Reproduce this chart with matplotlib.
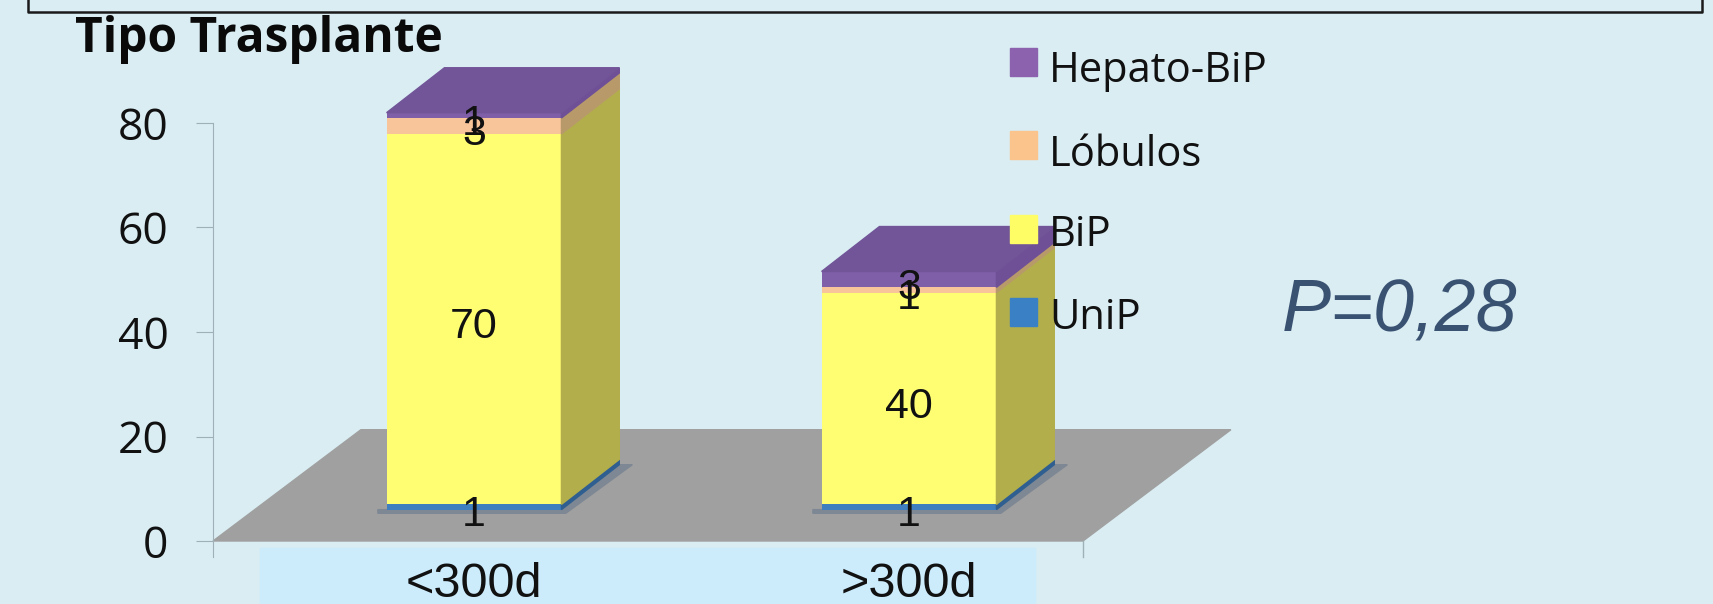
import matplotlib
matplotlib.use("Agg")
import matplotlib.pyplot as plt
from matplotlib.patches import Polygon, Rectangle

groups = ["<300d", ">300d"]
series = ["UniP", "BiP", "Lóbulos", "Hepato-BiP"]
unip = [1, 1]
bip = [70, 40]
lobulos = [3, 1]
hepato = [1, 3]
y_ticks = [0, 20, 40, 60, 80]

front_colors = ["#3F7FBF", "#FFFD72", "#F8C49A", "#7F5FA8"]
legend_colors = ["#3A80C4", "#FFFD66", "#FBC48C", "#8C62AE"]
side_colors = ["#2F5F90", "#B2AE4C", "#B89A6A", "#6F5096"]
top_color = "#715598"
bg = "#D9EDF3"

W, H = 1713, 604
fig = plt.figure(figsize=(W / 100, H / 100), dpi=100, facecolor=bg)
plt.rcParams["font.family"] = ["Liberation Sans", "DejaVu Sans"]

# axes box is placed on the pixel positions of the y axis and floor edge
ax = fig.add_axes([213 / W, 1 - 541 / H, (1083 - 213) / W, (541 - 123) / H])
ax.set_xlim(-0.6, 1.4)
ax.set_ylim(0, 80)
ax.patch.set_alpha(0)

# pale panel behind the category labels, slide frame on top
fig.add_artist(Rectangle((260 / W, 0), 775 / W, 56 / H, transform=fig.transFigure,
                         color="#CCEBFB", zorder=-1))
fig.add_artist(plt.Line2D([28 / W, 28 / W, 1702 / W, 1702 / W],
                          [1, 1 - 12 / H, 1 - 12 / H, 1], color="#1a1a1a", lw=1.8))

ddx, ddy = 0.133, 8.6
floor_dx, floor_dy = 0.34, 21.3
base = 6.0
scale = 1.013
bar_w = 0.402

ax.add_patch(Polygon([(-0.6, 0), (1.4, 0), (1.4 + floor_dx, floor_dy), (-0.6 + floor_dx, floor_dy)],
                     closed=True, color="#A0A0A0", clip_on=False, zorder=1))

stack = [unip, bip, lobulos, hepato]
for i in range(len(groups)):
    bottom = base
    l = i - bar_w / 2
    r = i + bar_w / 2
    # soft shadow on the floor around the base of the bar
    ax.add_patch(Polygon([(l - 0.02, bottom - 0.7), (r + 0.01, bottom - 0.7), (r + ddx + 0.03, bottom + ddy),
                          (r + ddx, bottom + ddy), (r, bottom), (l - 0.02, bottom)],
                         closed=True, color="#7E8894", clip_on=False, zorder=2))
    for j, vals in enumerate(stack):
        h = vals[i] * scale
        ax.bar(i, h, bar_w, bottom=bottom, color=front_colors[j], clip_on=False, zorder=3)
        ax.add_patch(Polygon([(r, bottom), (r + ddx, bottom + ddy), (r + ddx, bottom + h + ddy), (r, bottom + h)],
                             closed=True, color=side_colors[j], clip_on=False, zorder=3))
        ax.text(i, bottom + h / 2 - 1.6, str(vals[i]), ha="center", va="center", fontsize=31,
                color="#111111", zorder=5)
        bottom += h
    ax.add_patch(Polygon([(l, bottom), (r, bottom), (r + ddx, bottom + ddy), (l + ddx, bottom + ddy)],
                         closed=True, color=top_color, clip_on=False, zorder=3))

for s in ["top", "right", "bottom"]:
    ax.spines[s].set_visible(False)
ax.spines["left"].set_color("#9FB0B8")
ax.spines["left"].set_bounds(-3, 80)
ax.spines["left"].set_position(("data", -0.6))
ax.set_yticks(y_ticks)
ax.tick_params(axis="y", length=12, color="#9FB0B8", labelsize=32, labelcolor="#111111", pad=20)
for lab in ax.get_yticklabels():
    lab.set_family(["Open Sans", "DejaVu Sans"])
ax.set_xticks([])
ax.plot([1.4, 1.4], [0, -3], color="#9FB0B8", lw=1, clip_on=False)
for i, g in enumerate(groups):
    ax.text(i, -10.7, g, ha="center", va="baseline", fontsize=35, color="#111111", clip_on=False)

fig.text(75 / W, 1 - 39 / H, "Tipo Trasplante", fontsize=34.5, fontweight="bold", va="center",
         family=["Open Sans", "DejaVu Sans"], color="#0a0a0a")

marker_y = [62, 145, 229, 312]
legend_y = [71, 155, 235, 318]
for name, col, my, ty in zip(series[::-1], legend_colors[::-1], marker_y, legend_y):
    fig.add_artist(Rectangle((1010 / W, 1 - (my + 14) / H), 27 / W, 28 / H, transform=fig.transFigure,
                             color=col, zorder=6))
    fig.text(1049 / W, 1 - ty / H, name, fontsize=30, va="center", color="#111111",
             family=["Open Sans", "DejaVu Sans"], zorder=7)

fig.text(1282 / W, 1 - 311 / H, "P=0,28", fontsize=53, style="italic", va="center", color="#3A5272")

fig.savefig("out.png", dpi=100, facecolor=bg)
